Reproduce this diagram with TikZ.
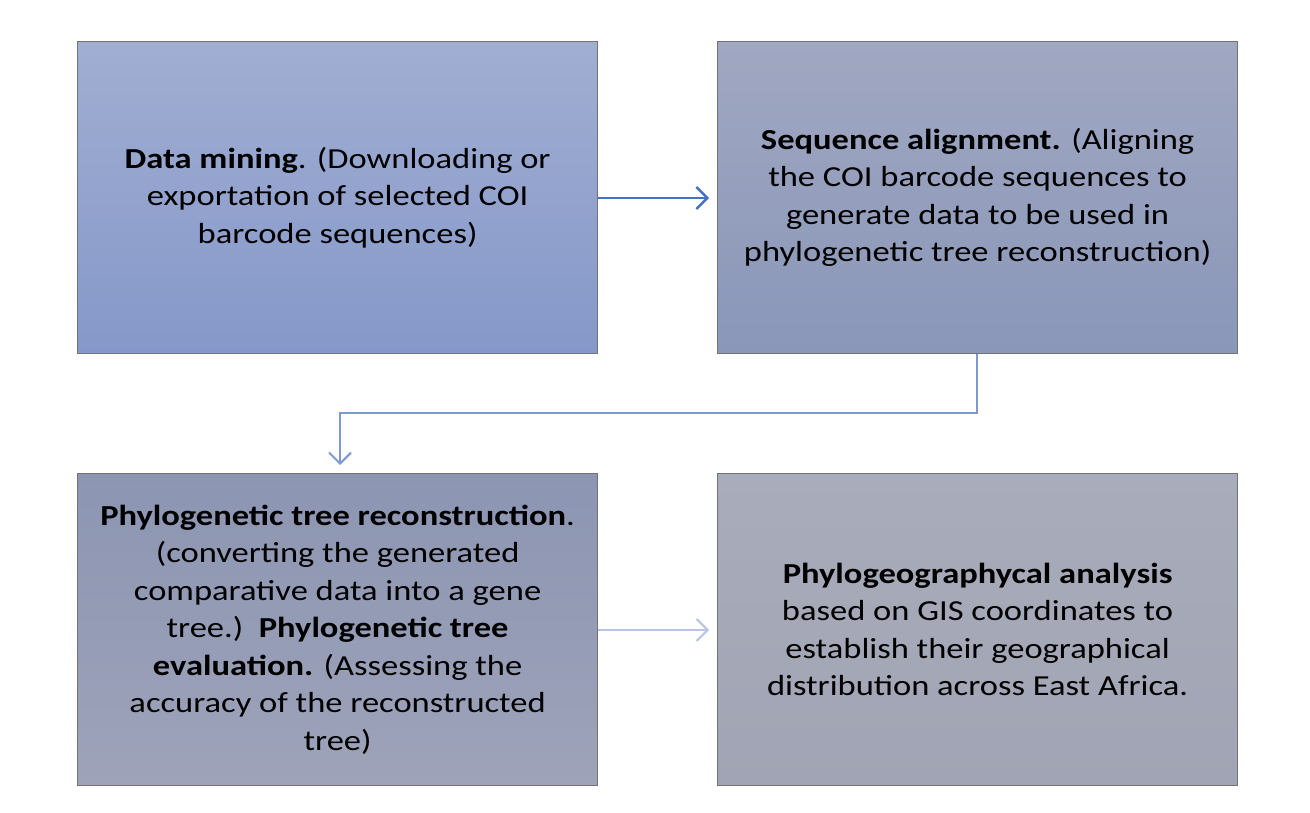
\documentclass[tikz,border=0pt]{standalone}
\usepackage{fontspec}
\setmainfont{Carlito}[FakeStretch=1.19]
\usetikzlibrary{arrows.meta}
\definecolor{aOne}{RGB}{68,114,196}
\definecolor{aTwo}{RGB}{125,152,210}
\definecolor{aThree}{RGB}{184,197,232}
\tikzset{
  box/.style={draw=black!55, line width=1.2pt, minimum width=520pt, minimum height=312pt, anchor=north west, inner sep=0pt},
  txt/.style={align=center, font=\fontsize{29}{37.5}\selectfont, text=black},
  barb/.style={-{Straight Barb[length=11pt,width=22pt]}},
}
\begin{document}
\begin{tikzpicture}[x=1pt,y=-1pt]
\useasboundingbox (0,0) rectangle (1310,813);
\fill[white] (0,0) rectangle (1310,813);
\node[box, top color={rgb,255:red,161;green,174;blue,210}, bottom color={rgb,255:red,133;green,152;blue,201}] (b1) at (77,41) {};
\node[box, top color={rgb,255:red,160;green,167;blue,193}, bottom color={rgb,255:red,138;green,151;blue,185}] (b2) at (717,41) {};
\node[box, top color={rgb,255:red,140;green,149;blue,178}, bottom color={rgb,255:red,158;green,163;blue,185}] (b3) at (77,473) {};
\node[box, top color={rgb,255:red,169;green,172;blue,186}, bottom color={rgb,255:red,160;green,164;blue,180}] (b4) at (717,473) {};
\node[txt] (t1) at (b1.center) {\textbf{Data mining}. (Downloading or\\exportation of selected COI\\barcode sequences)};
\node[txt] (t2) at (b2.center) {\textbf{Sequence alignment.} (Aligning\\the COI barcode sequences to\\generate data to be used in\\phylogenetic tree reconstruction)};
\node[txt] (t3) at (b3.center) {\textbf{Phylogenetic tree reconstruction}.\\(converting the generated\\comparative data into a gene\\tree.)\ \ \textbf{Phylogenetic tree}\\\textbf{evaluation.} (Assessing the\\accuracy of the reconstructed\\tree)};
\node[txt] (t4) at (b4.center) {\textbf{Phylogeographycal analysis}\\based on GIS coordinates to\\establish their geographical\\distribution across East Africa.};
\coordinate (e1) at (709,198);
\coordinate (e3) at (709,630);
\coordinate (m1) at (977,413);
\coordinate (m2) at (340,413);
\coordinate (e2) at (340,465);
\draw[barb, aOne, line width=2.4pt] (b1.east |- e1) -- (e1);
\draw[barb, aTwo, line width=2pt] (b2.south -| m1) -- (m1) -- (m2) -- (e2);
\draw[barb, aThree, line width=2pt] (b3.east |- e3) -- (e3);
\end{tikzpicture}
\end{document}
